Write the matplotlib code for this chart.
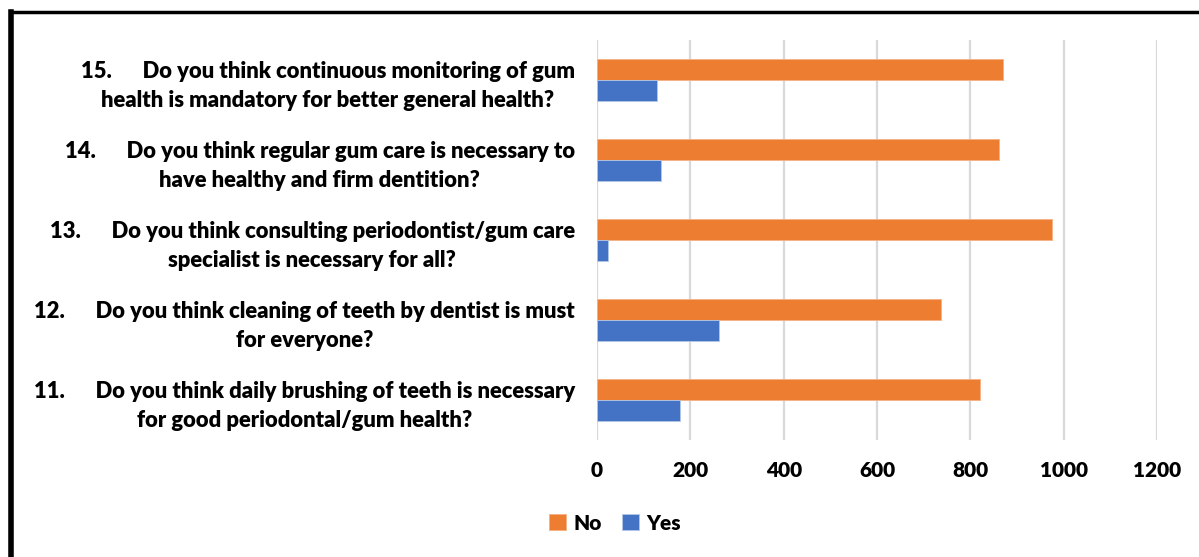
import numpy as np
import matplotlib.pyplot as plt
from matplotlib.lines import Line2D

plt.rcParams['font.family'] = ['Lato', 'DejaVu Sans']

questions = [
    "11.      Do you think daily brushing of teeth is necessary\nfor good periodontal/gum health?",
    "12.      Do you think cleaning of teeth by dentist is must\nfor everyone?",
    "13.      Do you think consulting periodontist/gum care\nspecialist is necessary for all?",
    "14.      Do you think regular gum care is necessary to\nhave healthy and firm dentition?",
    "15.      Do you think continuous monitoring of gum\nhealth is mandatory for better general health?",
]
no_vals = [821, 737, 975, 861, 870]
yes_vals = [177, 262, 23, 137, 128]
xticks = [0, 200, 400, 600, 800, 1000, 1200]

orange = "#ED7D31"
blue = "#4472C4"

fig = plt.figure(figsize=(11.99, 5.57), dpi=100)
ax = fig.add_axes([0.4979, 0.210, 0.4671, 0.718])

y = np.arange(len(questions))
h = 0.2625
ax.barh(y + h / 2, no_vals, height=h, color=orange, edgecolor="#f4b183", linewidth=0.6, label="No", zorder=3)
ax.barh(y - h / 2, yes_vals, height=h, color=blue, edgecolor="#b4c7e7", linewidth=0.6, label="Yes", zorder=3)

ax.set_xlim(0, 1200)
ax.set_ylim(-0.5, len(questions) - 0.5)
ax.set_xticks(xticks)
ax.set_xticklabels([str(v) for v in xticks], fontsize=15, fontweight="heavy")
ax.set_yticks(y)
ax.set_yticklabels(questions, fontsize=15.8, fontweight="heavy", linespacing=1.45)
for lbl in ax.get_yticklabels():
    lbl.set_multialignment("center")
ax.tick_params(axis="both", length=0)
ax.tick_params(axis="y", pad=16)
ax.tick_params(axis="x", pad=15)
ax.grid(axis="x", color="#d9d9d9", linewidth=1.6, zorder=0)
for s in ax.spines.values():
    s.set_visible(False)

fig.legend(loc="center", bbox_to_anchor=(0.513, 0.061), ncol=2, frameon=False,
           handlelength=0.8, handleheight=0.8, handletextpad=0.35, columnspacing=1.0,
           prop={"size": 15, "weight": "heavy"})

# outer frame (left and top edge of the cropped screenshot)
fig.add_artist(Line2D([11 / 1199, 11 / 1199], [0, 1 - 12 / 557], color="black", linewidth=4,
                      transform=fig.transFigure, solid_capstyle="projecting"))
fig.add_artist(Line2D([11 / 1199, 1], [1 - 12 / 557, 1 - 12 / 557], color="black", linewidth=2.5,
                      transform=fig.transFigure, solid_capstyle="projecting"))

plt.savefig("out.png", dpi=100)
